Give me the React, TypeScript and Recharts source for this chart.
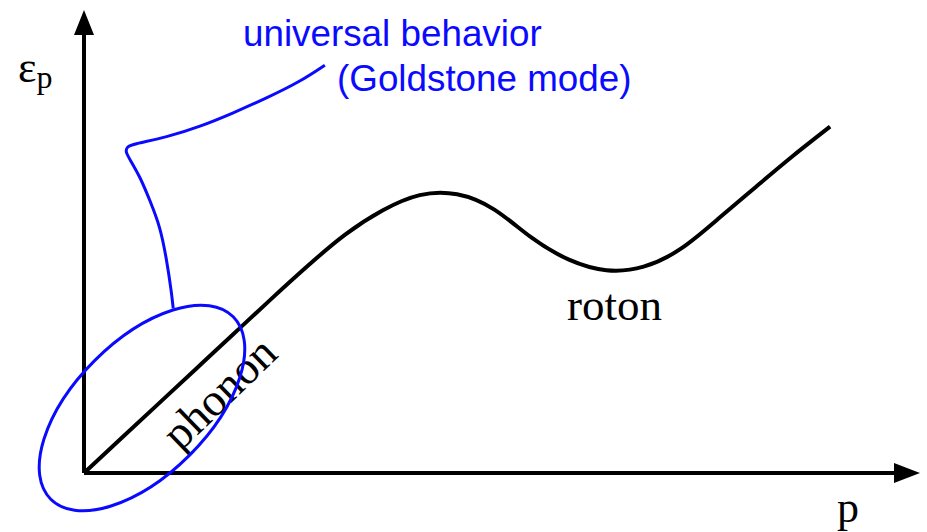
import React from 'react'
import { LineChart, Line, XAxis, YAxis, ReferenceDot, ReferenceLine } from 'recharts'

// dispersion curve of superfluid helium (arbitrary units), sampled at even steps of p
const momentum = [0, 0.46, 0.92, 1.38, 1.84, 2.3, 2.76, 3.22, 3.68, 4.14, 4.6, 5.06, 5.52, 5.98, 6.44, 6.9, 7.36, 7.82, 8.28, 8.74, 9.2]
const energy = [0, 0.79, 1.58, 2.37, 3.16, 3.95, 4.72, 5.43, 5.98, 6.33, 6.35, 6.0, 5.36, 4.86, 4.62, 4.7, 5.11, 5.79, 6.51, 7.22, 7.89]

// annotation leader line from the phonon ellipse to the label
const leaderX = [1.1, 1.08, 1.02, 0.94, 0.81, 0.69, 0.57, 0.51, 0.53, 0.6, 1.02, 1.43, 1.84, 2.25, 2.66, 2.97]
const leaderY = [3.75, 4.1, 4.85, 5.61, 6.22, 6.75, 7.13, 7.32, 7.43, 7.49, 7.65, 7.89, 8.2, 8.54, 8.91, 9.29]

const phononCenter = { p: 0.715, e: 1.48 }

const curve = momentum.map((p, i) => ({ p, e: energy[i] }))
const leader = leaderX.map((p, i) => ({ p, e: leaderY[i] }))

const BLUE = '#0a0aff'
const serif = '"Liberation Serif", "Times New Roman", serif'
const sans = '"Liberation Sans", Arial, sans-serif'

const ArrowRight = (props: any) => {
  const { cx, cy } = props
  return <polygon points={`${cx - 1},${cy - 10} ${cx + 25},${cy} ${cx - 1},${cy + 10}`} fill="#000" />
}

const ArrowUp = (props: any) => {
  const { cx, cy } = props
  return <polygon points={`${cx - 10},${cy + 1} ${cx},${cy - 24} ${cx + 10},${cy + 1}`} fill="#000" />
}

const Ellipse = (props: any) => {
  const { cx, cy } = props
  return (
    <ellipse
      cx={cx}
      cy={cy}
      rx={129}
      ry={67}
      transform={`rotate(-45 ${cx} ${cy})`}
      fill="none"
      stroke={BLUE}
      strokeWidth={3}
    />
  )
}

export default function App() {
  return (
    <div style={{ position: 'absolute', left: 0, top: 0, background: '#fff' }}>
      <LineChart width={927} height={532} margin={{ top: 34, right: 32, bottom: 59, left: 84 }}>
        <XAxis type="number" dataKey="p" domain={[0, 10]} hide />
        <YAxis type="number" dataKey="e" domain={[0, 10]} hide />
        <ReferenceLine x={0} stroke="#000" strokeWidth={4} />
        <ReferenceLine y={0} stroke="#000" strokeWidth={4} />
        <Line
          data={curve}
          dataKey="e"
          type="natural"
          stroke="#000"
          strokeWidth={4}
          dot={false}
          isAnimationActive={false}
        />
        <Line
          data={leader}
          dataKey="e"
          type="basis"
          stroke={BLUE}
          strokeWidth={3}
          dot={false}
          isAnimationActive={false}
        />
        <ReferenceDot x={phononCenter.p} y={phononCenter.e} shape={Ellipse} />
        <ReferenceDot x={10} y={0} shape={ArrowRight} />
        <ReferenceDot x={0} y={10} shape={ArrowUp} />

        <text x={18} y={82} fontFamily={serif} fontSize={44} fill="#000">
          ε<tspan fontSize={32} dy={6}>p</tspan>
        </text>
        <text x={837} y={522} fontFamily={serif} fontSize={44} fill="#000">p</text>
        <text x={567} y={320} fontFamily={serif} fontSize={45} fill="#000">roton</text>
        <text
          x={230}
          y={404}
          fontFamily={serif}
          fontSize={46}
          fill="#000"
          textAnchor="middle"
          transform="rotate(-44 230 404)"
        >
          phonon
        </text>
        <text x={243} y={46} fontFamily={sans} fontSize={36.8} fill={BLUE}>universal behavior</text>
        <text x={337} y={91} fontFamily={sans} fontSize={36.8} fill={BLUE}>(Goldstone mode)</text>
      </LineChart>
    </div>
  )
}
